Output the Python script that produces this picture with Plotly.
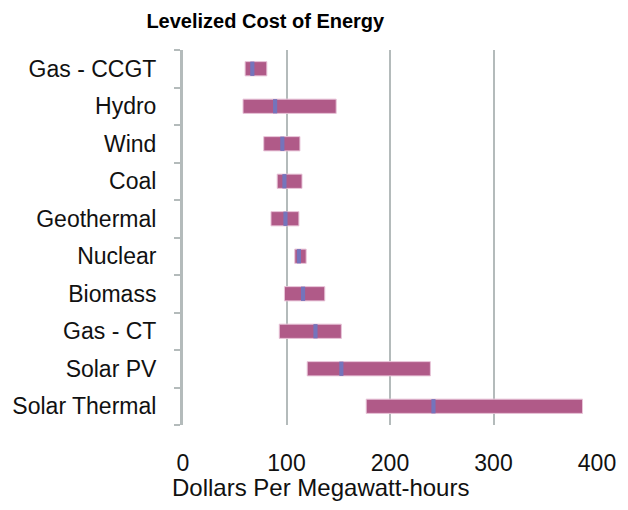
import plotly.graph_objects as go

# Levelized cost of energy, $/MWh
sources = ["Gas - CCGT", "Hydro", "Wind", "Coal", "Geothermal",
           "Nuclear", "Biomass", "Gas - CT", "Solar PV", "Solar Thermal"]
cost_min = [60, 58, 78, 91, 85, 108, 98, 93, 120, 177]
cost_max = [81, 148, 113, 115, 112, 119, 137, 153, 239, 386]
cost_avg = [67, 89, 96, 98, 99, 112, 116, 128, 153, 242]

x_ticks = [0, 100, 200, 300, 400]

BAR_COLOR = "#b05a88"
AVG_COLOR = "#7474bc"
GRID = "#b4bbbb"
FONT = "Liberation Sans, Arial, sans-serif"

avg_width = 4
spans = [hi - lo for lo, hi in zip(cost_min, cost_max)]

fig = go.Figure()

fig.add_trace(
    go.Bar(
        y=sources,
        x=spans,
        base=cost_min,
        orientation="h",
        width=0.38,
        marker=dict(color=BAR_COLOR, line=dict(color="#e8c4d8", width=1)),
        showlegend=False,
    )
)

fig.add_trace(
    go.Bar(
        y=sources,
        x=[avg_width] * len(sources),
        base=[a - avg_width / 2 for a in cost_avg],
        orientation="h",
        width=0.38,
        marker=dict(color=AVG_COLOR, line=dict(width=0)),
        showlegend=False,
    )
)

# page body adds 8px margin, so the figure is 8px smaller than the window
fig.update_layout(
    width=620,
    height=502,
    barmode="overlay",
    plot_bgcolor="white",
    paper_bgcolor="white",
    font=dict(family=FONT, color="#111111", size=23),
    title=dict(
        text="<b>Levelized Cost of Energy</b>",
        x=0.415,
        xanchor="center",
        y=0.974,
        yanchor="middle",
        font=dict(size=20, family=FONT, color="#000000"),
    ),
    xaxis=dict(
        range=[0, 400],
        tickvals=x_ticks,
        showgrid=True,
        gridcolor=GRID,
        gridwidth=2,
        zeroline=False,
        showline=False,
        ticks="",
        ticklabelstandoff=22,
        tickfont=dict(size=23),
        automargin=False,
    ),
    yaxis=dict(
        categoryorder="array",
        categoryarray=sources[::-1],
        autorange=False,
        range=[-0.5, len(sources) - 0.5],
        showline=True,
        linecolor=GRID,
        linewidth=3,
        ticks="outside",
        tickson="boundaries",
        ticklen=6,
        tickwidth=2,
        tickcolor=GRID,
        ticklabelstandoff=19,
        showgrid=False,
        tickfont=dict(size=23),
        automargin=False,
    ),
    annotations=[
        dict(
            text="Dollars Per Megawatt-hours",
            xref="paper",
            yref="paper",
            x=0.333,
            y=-0.166,
            xanchor="center",
            yanchor="middle",
            showarrow=False,
            font=dict(size=24, family=FONT, color="#111111"),
        )
    ],
    margin=dict(l=175, r=31, t=42, b=85),
)

fig.write_html("out.html")
